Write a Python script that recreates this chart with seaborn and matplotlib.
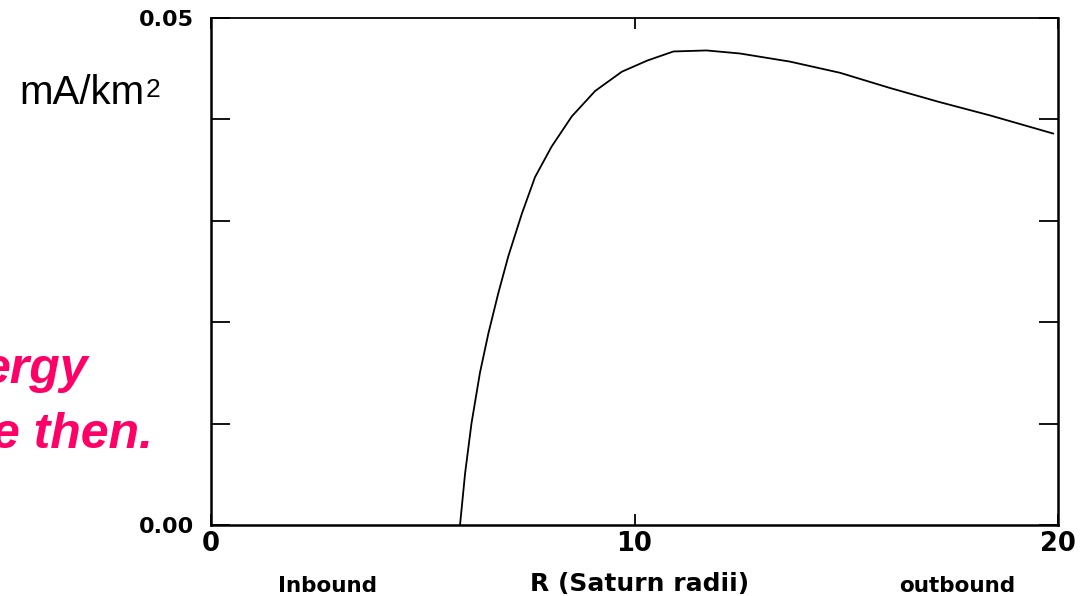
import matplotlib
matplotlib.use("Agg")
import matplotlib.pyplot as plt
import seaborn as sns
import pandas as pd

# ---- data ----
radius = [5.88, 6.00, 6.15, 6.35, 6.55, 6.78, 7.02, 7.34, 7.65, 8.04, 8.52,
          9.07, 9.70, 10.30, 10.92, 11.70, 12.49, 13.67, 14.85, 16.03,
          17.21, 18.39, 19.89]
current = [0.0, 0.0051, 0.0100, 0.0150, 0.0189, 0.0228, 0.0265, 0.0307,
           0.0343, 0.0373, 0.0403, 0.0428, 0.0447, 0.0458, 0.0467, 0.0468,
           0.0465, 0.0457, 0.0446, 0.0431, 0.0417, 0.0404, 0.0386]
x_ticks = [0, 10, 20]
x_tick_labels = ["0", "10", "20"]
y_ticks = [0.0, 0.01, 0.02, 0.03, 0.04, 0.05]
y_tick_labels = ["0.00", "", "", "", "", "0.05"]
unit_base = "mA/km"
unit_exp = "2"
x_label = "R (Saturn radii)"
left_note = "Inbound"
right_note = "outbound"
pink_lines = ["ergy", "e then."]

df = pd.DataFrame({"R": radius, "J": current})

sns.set_style("white")
plt.rcParams["font.family"] = ["DejaVu Sans"]
plt.rcParams["text.color"] = "black"
plt.rcParams["axes.labelcolor"] = "black"

W, H = 1092, 596
fig = plt.figure(figsize=(W / 100, H / 100), dpi=100)
ax = fig.add_axes([211 / W, 1 - 525 / H, (1058 - 211) / W, (525 - 18) / H])

sns.lineplot(data=df, x="R", y="J", ax=ax, color="black", linewidth=1.3,
             sort=False, estimator=None)

ax.set_xlim(0, 20)
ax.set_ylim(0, 0.05)
ax.set_xticks(x_ticks)
ax.set_xticklabels(x_tick_labels, fontsize=18.5, fontweight="bold")
ax.set_yticks(y_ticks)
ax.set_yticklabels(y_tick_labels, fontsize=16, fontweight="bold")
ax.tick_params(axis="x", direction="in", length=8, width=1.3, top=True,
               bottom=True, pad=4, colors="black")
ax.tick_params(axis="y", direction="in", length=14, width=1.3, left=True,
               right=True, pad=12, colors="black")
ax.set_xlabel("")
ax.set_ylabel("")
for s in ax.spines.values():
    s.set_visible(True)
    s.set_color("black")
    s.set_linewidth(1.8)
ax.spines["top"].set_linewidth(1.3)

# x axis texts
fig.text(640 / W, 1 - 584 / H, x_label, ha="center", va="center",
         fontsize=18, fontweight="bold")
fig.text(327 / W, 1 - 586 / H, left_note, ha="center", va="center",
         fontsize=15.5, fontweight="bold")
fig.text(957 / W, 1 - 586 / H, right_note, ha="center", va="center",
         fontsize=15.5, fontweight="bold")

# unit label
fig.text(19 / W, 1 - 104 / H, unit_base, ha="left", va="baseline",
         fontsize=29, family=["Liberation Sans", "DejaVu Sans"])
fig.text(146 / W, 1 - 97 / H, unit_exp, ha="left", va="baseline",
         fontsize=19, family=["Liberation Sans", "DejaVu Sans"])

# pink cut-off text at left
fig.text(88 / W, 1 - 383 / H, pink_lines[0], ha="right", va="baseline",
         fontsize=36, fontweight="bold", fontstyle="italic", color="#FF0066",
         family=["Liberation Sans", "DejaVu Sans"])
fig.text(153 / W, 1 - 448 / H, pink_lines[1], ha="right", va="baseline",
         fontsize=36, fontweight="bold", fontstyle="italic", color="#FF0066",
         family=["Liberation Sans", "DejaVu Sans"])

fig.savefig("out.png", dpi=100)
